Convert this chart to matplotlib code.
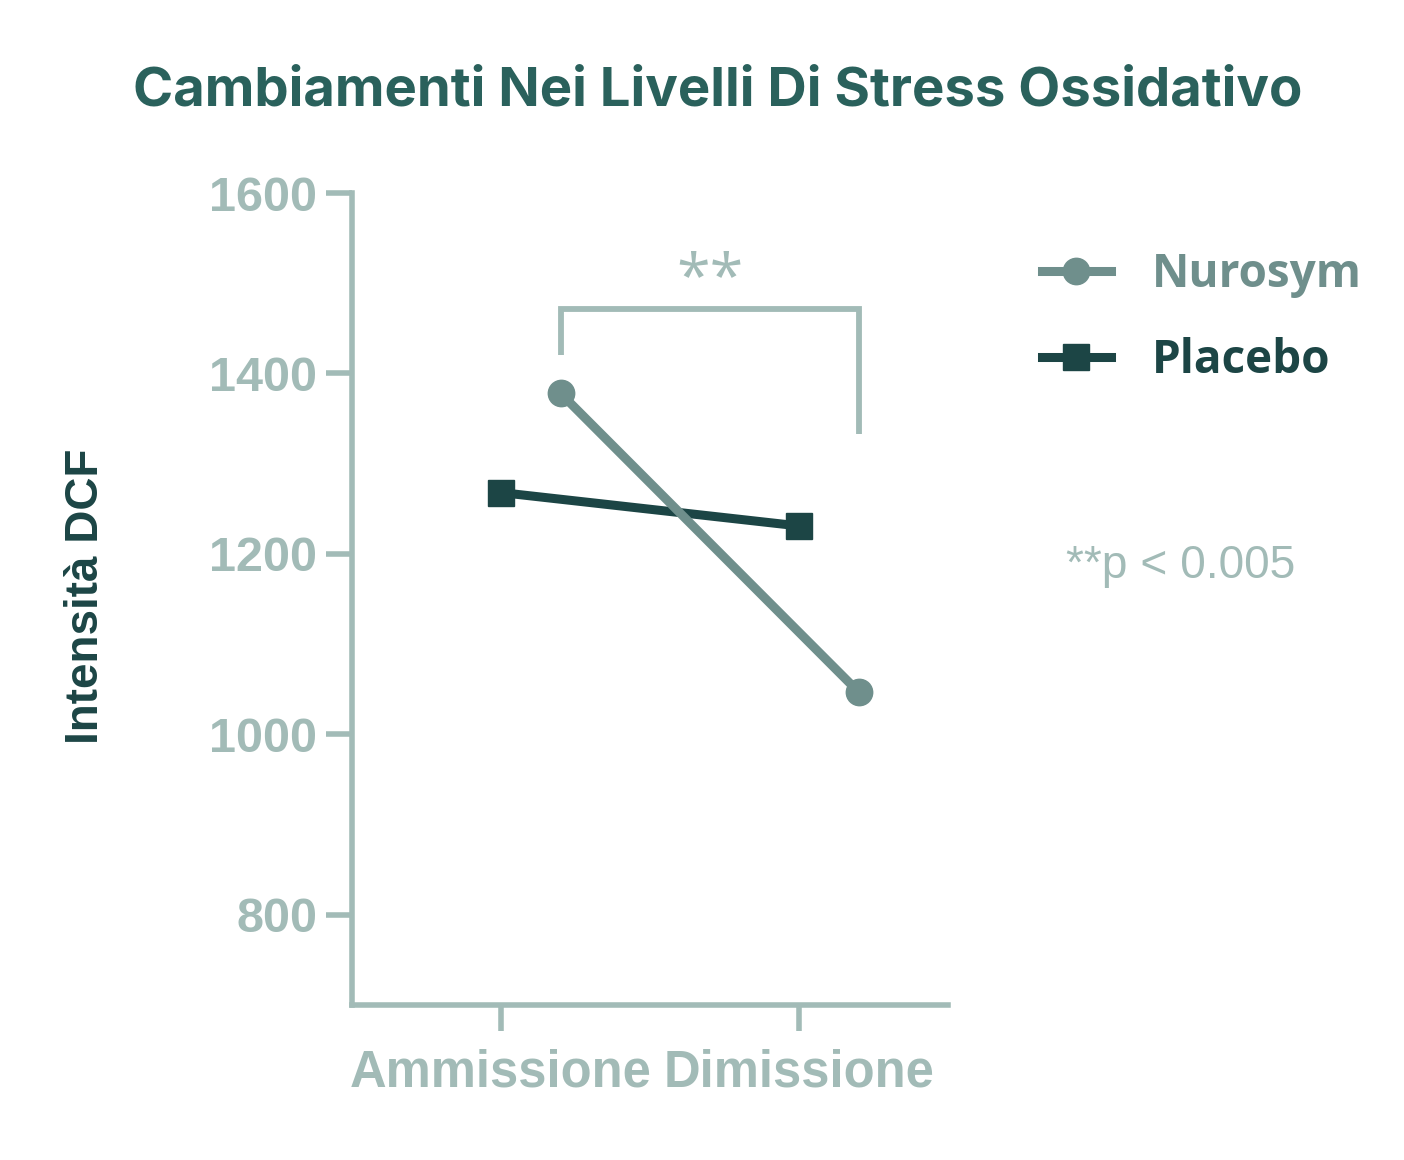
import matplotlib
matplotlib.use("Agg")
import matplotlib.pyplot as plt
from matplotlib.lines import Line2D

# ---- data ----
categories = ["Ammissione", "Dimissione"]
nurosym = [1378, 1047]
placebo = [1268, 1231]
series_names = ["Nurosym", "Placebo"]
yticks = [800, 1000, 1200, 1400, 1600]
bracket_y = [1420, 1472, 1472, 1333]
sig_label = "**"
p_label = "**p < 0.005"
title = "Cambiamenti Nei Livelli Di Stress Ossidativo"
ylabel = "Intensità DCF"

# ---- styles ----
C_AXIS = "#a2bbb7"
C_NURO = "#6f8f8c"
C_PLAC = "#1c4545"
C_TITLE = "#2a615c"
LW = 6.5

fig = plt.figure(figsize=(14.04, 11.6), dpi=100)
ax = fig.add_axes([0.2507, 0.1336, 0.4245, 0.7000])

x = list(range(len(categories)))
offset = 0.2
xn = [v + offset for v in x]

ax.plot(x, placebo, color=C_PLAC, lw=LW, marker="s", ms=19, zorder=3,
        solid_capstyle="butt", label=series_names[1])
ax.plot(xn, nurosym, color=C_NURO, lw=LW, marker="o", ms=19, zorder=4,
        solid_capstyle="butt", label=series_names[0])

# significance bracket
bx = [xn[0], xn[0], xn[1], xn[1]]
ax.plot(bx, bracket_y, color=C_AXIS, lw=4.2, clip_on=False,
        solid_joinstyle="miter", solid_capstyle="butt", zorder=2)
ax.text((xn[0] + xn[1]) / 2, 1504, sig_label, ha="center", va="center",
        color=C_AXIS, fontsize=44, family="Open Sans")

ax.set_xlim(-0.5, 1.5)
ax.set_ylim(700, 1600)
ax.set_xticks(x)
ax.set_xticklabels(categories)
ax.set_yticks(yticks)

for s in ["top", "right"]:
    ax.spines[s].set_visible(False)
for s in ["left", "bottom"]:
    ax.spines[s].set_color(C_AXIS)
    ax.spines[s].set_linewidth(4)
    ax.spines[s].set_capstyle("projecting")

ax.tick_params(axis="both", colors=C_AXIS, length=19, width=4,
               labelsize=35)
ax.tick_params(axis="y", pad=6)
ax.tick_params(axis="x", pad=12, labelsize=36.5)
for lab in ax.get_xticklabels() + ax.get_yticklabels():
    lab.set_fontfamily("Liberation Sans")
    lab.set_fontweight("bold")
    lab.set_color(C_AXIS)

fig.text(0.511, 0.921, title, ha="center", va="center", fontsize=39.2,
         color=C_TITLE, family="Inter", fontweight="bold")
fig.text(0.061, 0.486, ylabel, ha="center", va="center", rotation=90,
         fontsize=33, color=C_PLAC, family="Liberation Sans", fontweight="bold")

# legend
handles = [Line2D([], [], color=C_NURO, lw=LW, marker="o", ms=19),
           Line2D([], [], color=C_PLAC, lw=LW, marker="s", ms=19)]
leg = fig.legend(handles, series_names, loc="center left",
                 bbox_to_anchor=(0.742, 0.726), frameon=False,
                 prop={"family": "Open Sans", "weight": "bold", "size": 33},
                 handlelength=1.5, handletextpad=0.9, labelspacing=0.85,
                 borderaxespad=0, borderpad=0)
for t, c in zip(leg.get_texts(), [C_NURO, C_PLAC]):
    t.set_color(c)

fig.text(0.841, 0.5125, p_label, ha="center", va="center", fontsize=33.2,
         color=C_AXIS, family="Liberation Sans")

fig.savefig("out.png", dpi=100)
